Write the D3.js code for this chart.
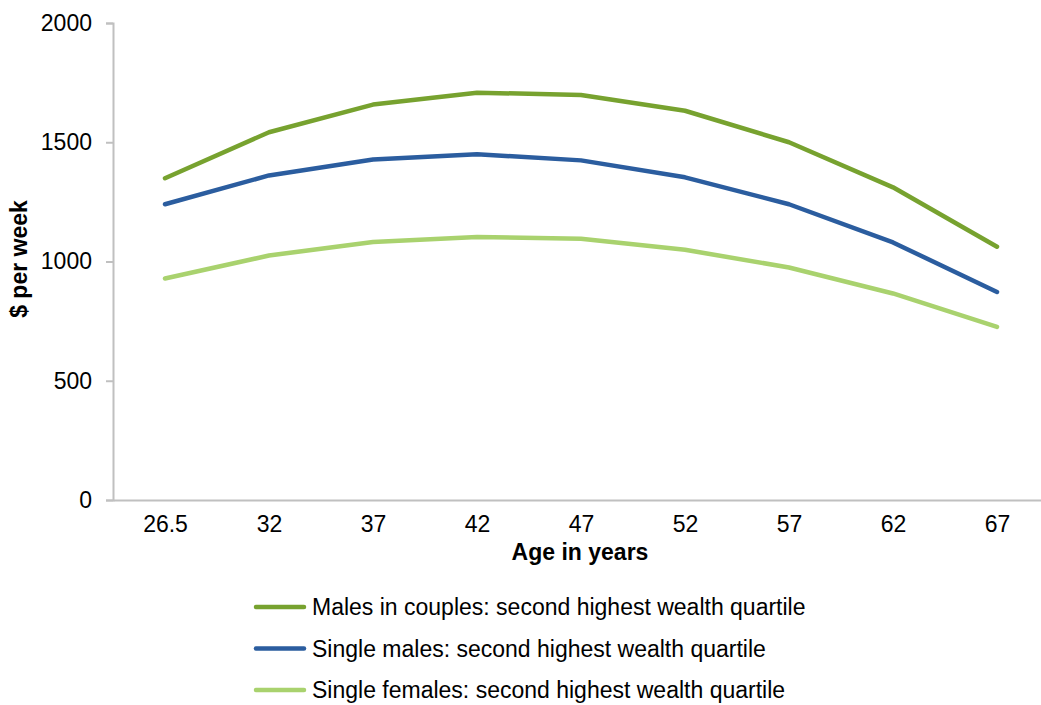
<!DOCTYPE html>
<html>
<head>
<meta charset="utf-8">
<script src="https://cdn.jsdelivr.net/npm/d3@7"></script>
<style>
body{margin:0;background:#fff;font-family:"Liberation Sans",Arial,sans-serif;}
</style>
</head>
<body>
<div id="main"></div>
<script>
var ages=['26.5','32','37','42','47','52','57','62','67'];
var couplesMale=[1349,1542,1658,1708,1698,1632,1500,1311,1062];
var singleMale=[1240,1361,1428,1450,1424,1353,1240,1080,872];
var singleFemale=[929,1025,1082,1103,1095,1049,975,866,726];
var seriesNames=['Males in couples: second highest wealth quartile','Single males: second highest wealth quartile','Single females: second highest wealth quartile'];
var colors=['#77a22f','#2b5d9f','#a9d26e'];
var yTicks=[0,500,1000,1500,2000];

var width=1041,height=705;
var plotLeft=113,plotRight=1049,plotTop=23,plotBottom=500;
var font='"Liberation Sans",Arial,sans-serif';

var svg=d3.select('#main')
  .append('svg')
    .attr('width',width)
    .attr('height',height);

var x=d3.scalePoint()
    .domain(ages)
    .range([plotLeft,plotRight])
    .padding(0.5);
var y=d3.scaleLinear()
    .domain([0,2000])
    .range([plotBottom,plotTop]);

// y axis
var yAxis=svg.append('g')
    .attr('transform','translate('+plotLeft+',0)')
    .call(d3.axisLeft(y).tickValues(yTicks).tickFormat(d3.format('d')).tickSize(7).tickPadding(14));
yAxis.select('.domain').attr('stroke','#c0c0c0').attr('stroke-width',2);
yAxis.selectAll('.tick line').attr('stroke','#c0c0c0').attr('stroke-width',2);
yAxis.selectAll('.tick text').attr('font-size','23px').attr('font-family',font).attr('fill','#000');

// x axis
var xAxis=svg.append('g')
    .attr('transform','translate(0,'+plotBottom+')')
    .call(d3.axisBottom(x).tickSize(0).tickPadding(16));
xAxis.select('.domain').attr('stroke','#c0c0c0').attr('stroke-width',2);
xAxis.selectAll('.tick text').attr('font-size','23px').attr('font-family',font).attr('fill','#000');

svg.append('text')
    .attr('x',580).attr('y',560)
    .attr('text-anchor','middle')
    .attr('font-size','23px').attr('font-weight','bold')
    .text('Age in years');

svg.append('text')
    .attr('transform','translate(27,259) rotate(-90)')
    .attr('text-anchor','middle')
    .attr('font-size','23px').attr('font-weight','bold')
    .text('$ per week');

var allSeries=[couplesMale,singleMale,singleFemale];
var line=d3.line()
    .x(function(d,i){return x(ages[i]);})
    .y(function(d){return y(d);});

svg.selectAll('path.series')
    .data(allSeries)
  .enter().append('path')
    .attr('class','series')
    .attr('d',line)
    .attr('fill','none')
    .attr('stroke',function(d,i){return colors[i];})
    .attr('stroke-width',4.5)
    .attr('stroke-linecap','round')
    .attr('stroke-linejoin','round');

// legend
var legend=svg.selectAll('g.legend')
    .data(seriesNames)
  .enter().append('g')
    .attr('class','legend')
    .attr('transform',function(d,i){return 'translate(256,'+(607+i*41.5)+')';});
legend.append('line')
    .attr('x1',0).attr('x2',48)
    .attr('stroke',function(d,i){return colors[i];})
    .attr('stroke-width',4.5)
    .attr('stroke-linecap','round');
legend.append('text')
    .attr('x',56).attr('y',8)
    .attr('font-size','23px')
    .text(function(d){return d;});
</script>
</body>
</html>
